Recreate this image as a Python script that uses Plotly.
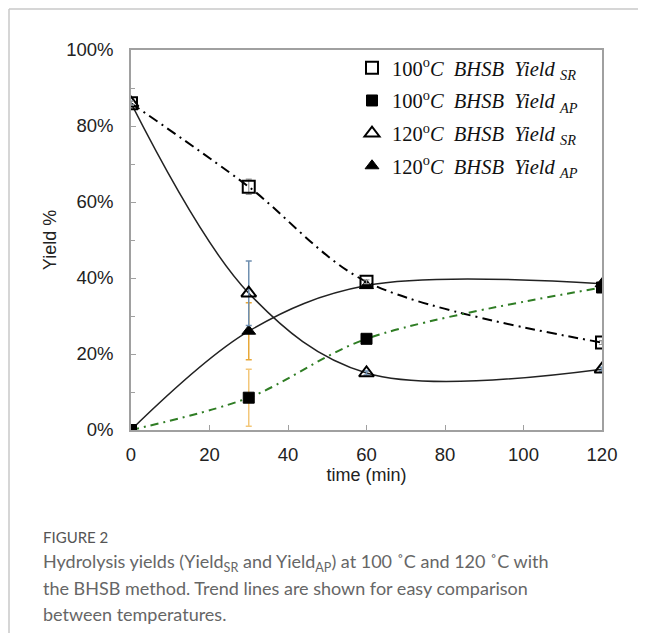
import plotly.graph_objects as go

time = [0, 30, 60, 120]
sr_100 = [0.86, 0.64, 0.39, 0.23]
ap_100 = [0.0, 0.085, 0.24, 0.375]
sr_120 = [0.86, 0.36, 0.15, 0.16]
ap_120 = [0.0, 0.26, 0.38, 0.385]
err_sr_100 = [0.005, 0.02, 0.005, 0.005]
err_ap_100 = [0.003, 0.075, 0.005, 0.005]
err_sr_120 = [0.005, 0.085, 0.005, 0.005]
err_ap_120 = [0.003, 0.075, 0.005, 0.005]

names = [
    "100<sup>o</sup><i>C\u00a0\u00a0BHSB\u00a0\u00a0Yield\u00a0</i><sub><i>SR</i></sub>",
    "100<sup>o</sup><i>C\u00a0\u00a0BHSB\u00a0\u00a0Yield\u00a0</i><sub><i>AP</i></sub>",
    "120<sup>o</sup><i>C\u00a0\u00a0BHSB\u00a0\u00a0Yield\u00a0</i><sub><i>SR</i></sub>",
    "120<sup>o</sup><i>C\u00a0\u00a0BHSB\u00a0\u00a0Yield\u00a0</i><sub><i>AP</i></sub>",
]

fig = go.Figure()

# trend lines
fig.add_trace(go.Scatter(x=time, y=sr_100, mode="lines", showlegend=False, hoverinfo="skip",
                         line=dict(color="black", width=2, dash="10px,5px,2px,5px", shape="spline", smoothing=0.9)))
fig.add_trace(go.Scatter(x=time, y=ap_100, mode="lines", showlegend=False, hoverinfo="skip",
                         line=dict(color="#2f7d24", width=2, dash="8px,5px,2px,5px", shape="spline", smoothing=0.9)))
fig.add_trace(go.Scatter(x=time, y=sr_120, mode="lines", showlegend=False, hoverinfo="skip",
                         line=dict(color="#222", width=1.5, shape="spline", smoothing=1.0)))
fig.add_trace(go.Scatter(x=time, y=ap_120, mode="lines", showlegend=False, hoverinfo="skip",
                         line=dict(color="#222", width=1.5, shape="spline", smoothing=1.0)))

# markers with error bars
fig.add_trace(go.Scatter(x=time, y=ap_100, mode="markers", name=names[1], legendgroup="b", legendrank=2,
                         error_y=dict(type="data", array=err_ap_100, color="#f3c77a", thickness=1.5, width=3),
                         marker=dict(symbol="square", size=11, color="black", line=dict(color="black", width=1))))
fig.add_trace(go.Scatter(x=time, y=ap_120, mode="markers", name=names[3], legendgroup="d", legendrank=4,
                         error_y=dict(type="data", array=err_ap_120, color="#e8a838", thickness=1.5, width=3),
                         marker=dict(symbol="triangle-up", size=12, color="black", line=dict(color="black", width=1))))
fig.add_trace(go.Scatter(x=time, y=sr_120, mode="markers", name=names[2], legendgroup="c", legendrank=3,
                         error_y=dict(type="data", array=err_sr_120, color="#6f8fb0", thickness=1.5, width=3),
                         marker=dict(symbol="triangle-up-open", size=13, color="black", line=dict(color="black", width=2))))
fig.add_trace(go.Scatter(x=time, y=sr_100, mode="markers", name=names[0], legendgroup="a", legendrank=1,
                         error_y=dict(type="data", array=err_sr_100, color="#999", thickness=1.2, width=3),
                         marker=dict(symbol="square-open", size=12, color="black", line=dict(color="black", width=2))))

OFF = 8  # page body margin offset
W, H = 646 - OFF, 633 - OFF
L, R, T, B = 131 - OFF, 602 - OFF, 50 - OFF, 430 - OFF
pw, ph = R - L, B - T

def px(x):
    return (x - OFF - L) / pw

def py(y):
    return (B - (y - OFF)) / ph

axis_common = dict(showline=True, mirror=True, linecolor="#a0a0a0", linewidth=1.5,
                   ticks="inside", ticklen=5, tickcolor="#a0a0a0", showgrid=False, zeroline=False,
                   tickfont=dict(family="Liberation Sans, Arial", size=18.5, color="#222"))

fig.update_layout(
    width=W, height=H,
    margin=dict(l=L, r=W - R, t=T, b=H - B),
    paper_bgcolor="white", plot_bgcolor="white",
    xaxis=dict(range=[0, 120], dtick=20, ticklabelstandoff=7,
               title=dict(text="time (min)", standoff=3,
                          font=dict(family="Liberation Sans, Arial", size=18, color="#222")), **axis_common),
    yaxis=dict(range=[0, 1], dtick=0.2, tickformat=".0%", ticklabelstandoff=12,
               title=dict(text="Yield %", standoff=5,
                          font=dict(family="Liberation Sans, Arial", size=18, color="#222")),
               minor=dict(dtick=0.1, ticks="inside", ticklen=4, tickcolor="#a0a0a0"), **axis_common),
    legend=dict(x=px(352), y=py(48), xanchor="left", yanchor="top", bgcolor="rgba(0,0,0,0)",
                font=dict(family="Liberation Serif, DejaVu Serif", size=20.5, color="#111"),
                tracegroupgap=3, itemwidth=30),
    showlegend=True,
)

# outer page border
fig.add_shape(type="line", xref="paper", yref="paper", x0=px(9), x1=px(646), y0=py(9), y1=py(9),
              line=dict(color="#c8c8c8", width=1.5))
fig.add_shape(type="line", xref="paper", yref="paper", x0=px(9), x1=px(9), y0=py(9), y1=py(633),
              line=dict(color="#c8c8c8", width=1.5))

cap_font = "Lato, Open Sans, sans-serif"
fig.add_annotation(xref="paper", yref="paper", x=px(41), y=py(537), xanchor="left", yanchor="middle",
                   text="FIGURE 2", showarrow=False, font=dict(family=cap_font, size=15, color="#555"))
cap_lines = [
    "Hydrolysis yields (Yield<sub>SR</sub> and Yield<sub>AP</sub>) at 100 \u02daC and 120 \u02daC with",
    "the BHSB method. Trend lines are shown for easy comparison",
    "between temperatures.",
]
for i, t in enumerate(cap_lines):
    fig.add_annotation(xref="paper", yref="paper", x=px(41), y=py(562 + 26 * i), xanchor="left", yanchor="middle",
                       text=t, showarrow=False, font=dict(family=cap_font, size=18, color="#666"))

fig.write_html("out.html")
